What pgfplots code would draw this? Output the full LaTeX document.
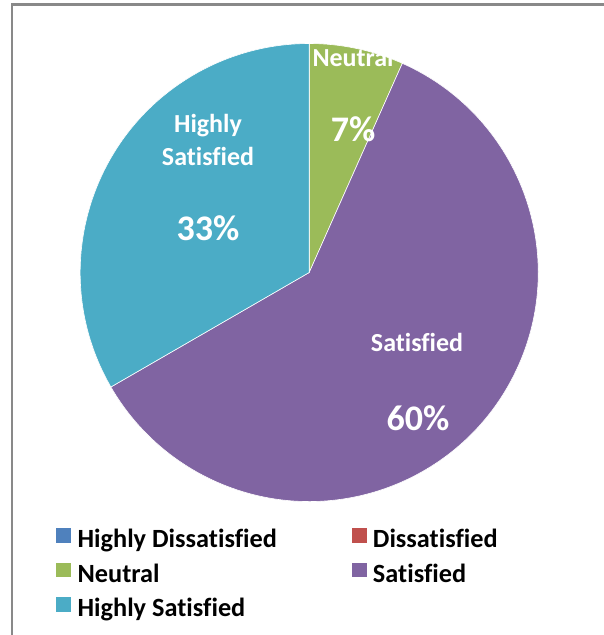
\documentclass[border=0pt]{standalone}
\usepackage{pgfplots}
\pgfplotsset{compat=1.18}
\usepackage{pgfplotstable}
\usepackage{fontspec}
\setmainfont{Carlito}[Ligatures=NoCommon]

\definecolor{hdis}{HTML}{4F81BD}
\definecolor{dis}{HTML}{C0504D}
\definecolor{neu}{HTML}{9BBB59}
\definecolor{sat}{HTML}{8064A2}
\definecolor{hsat}{HTML}{4BACC6}
\definecolor{framegray}{HTML}{898989}

% survey answers (counts)
\pgfplotstableread{
label value
HighlyDissatisfied 0
Dissatisfied 0
Neutral 2
Satisfied 18
HighlySatisfied 10
}\piedata

\pgfplotsset{sq/.style={legend image code/.code={\fill[#1] (0pt,-1pt) rectangle (14pt,12.7pt);}}}

\begin{document}
\begin{tikzpicture}[x=1pt,y=1pt]
  \pgfplotstablegetelem{0}{value}\of\piedata\let\vA\pgfplotsretval
  \pgfplotstablegetelem{1}{value}\of\piedata\let\vB\pgfplotsretval
  \pgfplotstablegetelem{2}{value}\of\piedata\let\vC\pgfplotsretval
  \pgfplotstablegetelem{3}{value}\of\piedata\let\vD\pgfplotsretval
  \pgfplotstablegetelem{4}{value}\of\piedata\let\vE\pgfplotsretval
  \pgfmathsetmacro\tot{\vA+\vB+\vC+\vD+\vE}
  \pgfmathsetmacro\aA{90}
  \pgfmathsetmacro\aB{\aA-360*\vA/\tot}
  \pgfmathsetmacro\aC{\aB-360*\vB/\tot}
  \pgfmathsetmacro\aD{\aC-360*\vC/\tot}
  \pgfmathsetmacro\aE{\aD-360*\vD/\tot}
  \pgfmathsetmacro\aF{\aE-360*\vE/\tot}

  \useasboundingbox (0,0) rectangle (604,-635);
  \fill[white] (0,0) rectangle (604,-635);
  \begin{axis}[
    at={(309.2pt,-272.5pt)}, anchor=origin,
    scale only axis, width=458pt, height=458pt,
    xmin=-1, xmax=1, ymin=-1, ymax=1,
    hide axis, clip=false,
    legend columns=2,
    legend cell align=left,
    legend style={draw=none, fill=none, inner sep=0pt,
      at={(-0.0528,-0.058)}, anchor=north west,
      font=\fontsize{26.3}{30}\selectfont\bfseries,
      row sep=9pt,
      nodes={inner sep=0pt, text height=19pt, text depth=6pt},
      /tikz/every odd column/.append style={column sep=7pt},
      /tikz/every even column/.append style={column sep=74.7pt}},
  ]
    \addlegendimage{sq=hdis}
    \addlegendimage{sq=dis}
    \addlegendimage{sq=neu}
    \addlegendimage{sq=sat}
    \addlegendimage{sq=hsat}
    \legend{Highly Dissatisfied, Dissatisfied, Neutral, Satisfied, Highly Satisfied}

    \filldraw[fill=hdis, draw=white, line width=0.6pt] (axis cs:0,0) -- (axis cs:{cos(\aA)},{sin(\aA)}) arc[start angle=\aA, end angle=\aB, radius=229pt] -- cycle;
    \filldraw[fill=dis, draw=white, line width=0.6pt] (axis cs:0,0) -- (axis cs:{cos(\aB)},{sin(\aB)}) arc[start angle=\aB, end angle=\aC, radius=229pt] -- cycle;
    \filldraw[fill=neu, draw=white, line width=0.6pt] (axis cs:0,0) -- (axis cs:{cos(\aC)},{sin(\aC)}) arc[start angle=\aC, end angle=\aD, radius=229pt] -- cycle;
    \filldraw[fill=sat, draw=white, line width=0.6pt] (axis cs:0,0) -- (axis cs:{cos(\aD)},{sin(\aD)}) arc[start angle=\aD, end angle=\aE, radius=229pt] -- cycle;
    \filldraw[fill=hsat, draw=white, line width=0.6pt] (axis cs:0,0) -- (axis cs:{cos(\aE)},{sin(\aE)}) arc[start angle=\aE, end angle=\aF, radius=229pt] -- cycle;
  \end{axis}

  % data labels
  \begin{scope}[every node/.style={text=white, inner sep=0pt, font=\fontsize{26}{30}\selectfont\bfseries}]
    \node[anchor=base west] at (312.3,-66) {Neutral};
    \node[anchor=base, font=\fontsize{36}{40}\selectfont\bfseries] at (353,-141.7) {7\%};
    \node[anchor=base] at (208,-132) {Highly};
    \node[anchor=base] at (208,-165) {Satisfied};
    \node[anchor=base, font=\fontsize{36}{40}\selectfont\bfseries] at (208,-240) {33\%};
    \node[anchor=base] at (417,-351.7) {Satisfied};
    \node[anchor=base, font=\fontsize{36}{40}\selectfont\bfseries] at (418,-430) {60\%};
  \end{scope}

  % chart area border (cut by the image edge)
  \draw[framegray, line width=2.3pt] (12.2,-635) -- (12.2,-4.5) -- (604,-4.5);
\end{tikzpicture}
\end{document}
